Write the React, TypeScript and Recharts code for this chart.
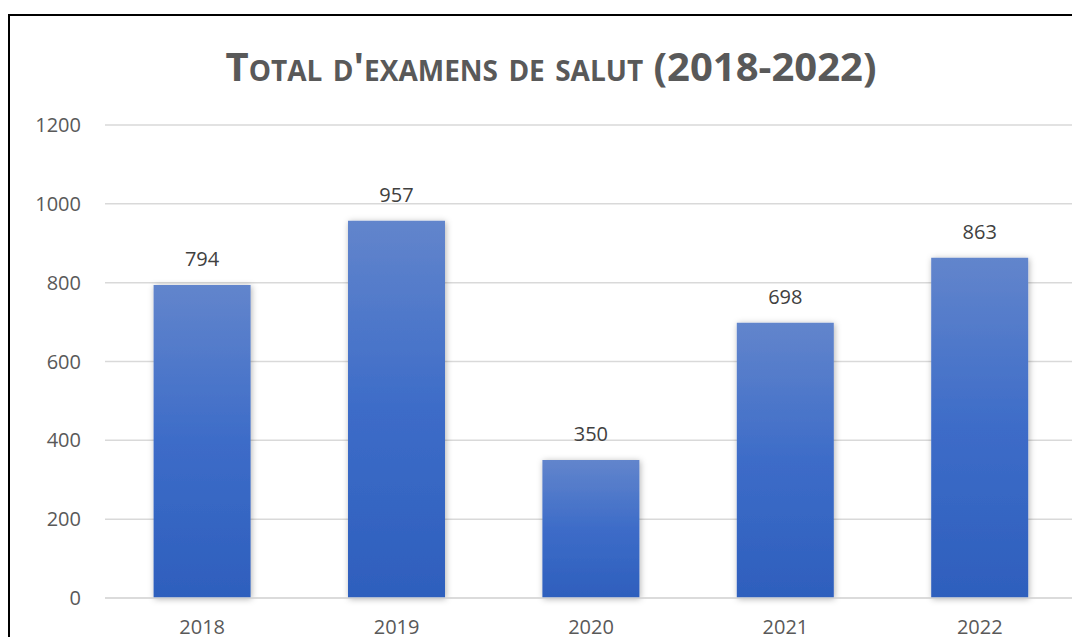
import { BarChart, Bar, XAxis, YAxis, CartesianGrid, LabelList } from 'recharts';

const years = ['2018', '2019', '2020', '2021', '2022'];
const exams = [794, 957, 350, 698, 863];
const yTicks = [0, 200, 400, 600, 800, 1000, 1200];

const data = years.map((year, i) => ({ year, exams: exams[i] }));

const font = '"Open Sans", sans-serif';

const App = () => {
  return (
    <div
      style={{
        position: 'relative',
        marginTop: 6,
        width: 1072,
        height: 623,
        boxSizing: 'border-box',
        borderLeft: '2px solid #000',
        borderTop: '2px solid #000',
        overflow: 'hidden',
        background: '#fff',
      }}
    >
      <style>{'html,body{overflow:hidden}'}</style>
      <div
        style={{
          position: 'absolute',
          left: 0,
          width: 1082,
          top: 22,
          textAlign: 'center',
          fontFamily: font,
          fontWeight: 700,
          fontSize: 40,
          fontVariant: 'small-caps',
          color: '#595959',
          lineHeight: '56px',
        }}
      >
        Total d'examens de salut (2018-2022)
      </div>
      <BarChart
        width={1070}
        height={621}
        data={data}
        margin={{ top: 109, right: 3, left: 0, bottom: 0 }}
        barCategoryGap="25%"
      >
        <defs>
          <linearGradient id="barFill" x1="0" y1="0" x2="0" y2="1">
            <stop offset="0%" stopColor="#6285cc" />
            <stop offset="50%" stopColor="#3d6cc8" />
            <stop offset="100%" stopColor="#2e5fbd" />
          </linearGradient>
          <filter id="barShadow" x="-20%" y="-20%" width="140%" height="140%">
            <feDropShadow dx="1" dy="1" stdDeviation="3" floodColor="#000" floodOpacity="0.3" />
          </filter>
        </defs>
        <CartesianGrid vertical={false} stroke="#d9d9d9" strokeWidth={1.5} />
        <XAxis
          dataKey="year"
          height={39}
          axisLine={{ stroke: '#d9d9d9', strokeWidth: 1.5 }}
          tickLine={false}
          tickSize={0}
          tickMargin={22}
          tick={{ fill: '#595959', fontSize: 20, fontFamily: font }}
        />
        <YAxis
          width={95}
          domain={[0, 1200]}
          ticks={yTicks}
          axisLine={false}
          tickLine={false}
          tickSize={0}
          tickMargin={24}
          tick={{ fill: '#595959', fontSize: 20, fontFamily: font }}
        />
        <Bar dataKey="exams" fill="url(#barFill)" filter="url(#barShadow)" isAnimationActive={false}>
          <LabelList
            dataKey="exams"
            position="top"
            offset={19}
            fill="#404040"
            fontSize={20}
            fontFamily={font}
          />
        </Bar>
      </BarChart>
    </div>
  );
};

export default App;
